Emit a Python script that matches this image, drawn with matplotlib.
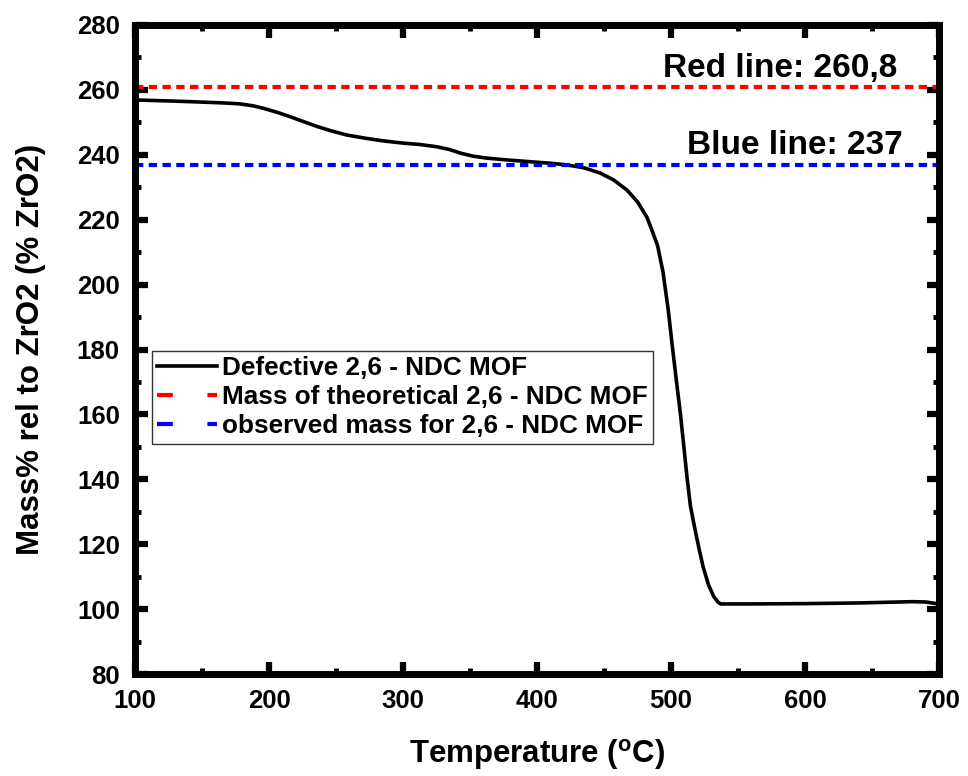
import numpy as np
import matplotlib
matplotlib.use('Agg')
from matplotlib import pyplot as plt
from matplotlib.lines import Line2D

# TGA curve
temperature = [100, 125, 146, 165, 178, 188, 196, 206, 216, 226, 236, 247, 258, 272,
               285, 300, 312, 325, 335, 343, 352, 362, 375, 397, 410, 422, 435, 447,
               457, 467, 475, 482, 486, 490, 494, 498, 501, 504, 507, 509.5, 512, 514.5,
               518, 521, 524, 528, 532, 535, 537, 545, 560, 600, 640, 680, 690, 700]
mass = [256.9, 256.6, 256.3, 256.0, 255.7, 255.1, 254.3, 253.1, 251.7, 250.2, 248.7,
        247.3, 246.1, 245.1, 244.3, 243.6, 243.2, 242.5, 241.6, 240.5, 239.6, 239.0,
        238.5, 237.8, 237.4, 236.9, 236.0, 234.4, 232.3, 229.2, 225.5, 220.8, 216.5,
        212.0, 204.0, 192.0, 181.0, 170.5, 160.3, 150.5, 140.5, 131.8, 124.4, 118.5,
        113.0, 107.5, 103.8, 102.2, 101.6, 101.6, 101.6, 101.7, 101.9, 102.3, 102.2,
        101.6]

theoretical = 260.8
observed = 237

labels = ['Defective 2,6 - NDC MOF',
          'Mass of theoretical 2,6 - NDC MOF',
          'observed mass for 2,6 - NDC MOF']

plt.rcParams['font.family'] = ['Liberation Sans', 'DejaVu Sans']
plt.rcParams['font.weight'] = 'bold'
plt.rcParams['mathtext.fontset'] = 'custom'
plt.rcParams['mathtext.rm'] = 'Liberation Sans:bold'
plt.rcParams['mathtext.bf'] = 'Liberation Sans:bold'

fig = plt.figure(figsize=(9.68, 7.76), dpi=100)
ax = fig.add_axes([0.1395, 0.1314, 0.8305, 0.8364])

ax.plot(temperature, mass, color='k', lw=2.6, solid_capstyle='butt')
ax.axhline(theoretical, color='#ff0000', lw=3, linestyle=(0, (2, 1.3)))
ax.axhline(observed, color='#0000ff', lw=3, linestyle=(0, (2, 1.3)))

ax.text(669, 264.0, 'Red line: 260,8', ha='right', va='baseline', fontsize=24, fontweight='bold')
ax.text(673, 240.2, 'Blue line: 237', ha='right', va='baseline', fontsize=24, fontweight='bold')

ax.set_xlim(100, 700)
ax.set_ylim(80, 280)
ax.set_xticks(np.arange(100, 701, 100))
ax.set_xticks(np.arange(150, 700, 100), minor=True)
ax.set_yticks(np.arange(80, 281, 20))
ax.set_yticks(np.arange(90, 280, 20), minor=True)

for s in ax.spines.values():
    s.set_linewidth(5)
ax.tick_params(which='both', direction='in', top=True, right=True, labelsize=18.5)
ax.tick_params(which='major', length=9, width=4.5)
ax.tick_params(which='minor', length=4.5, width=3.5)
ax.tick_params(axis='x', which='major', pad=11)
ax.tick_params(axis='y', which='major', pad=11)
for lab in ax.get_xticklabels() + ax.get_yticklabels():
    lab.set_fontweight('bold')

ax.set_xlabel(r'Temperature ($\mathregular{^o}$C)', fontsize=22.5, fontweight='bold', labelpad=17)
ax.set_ylabel('Mass% rel to ZrO2 (% ZrO2)', fontsize=22.5, fontweight='bold', labelpad=22)

handles = [Line2D([], [], color='k', lw=2.6),
           Line2D([], [], color='#ff0000', lw=3, dashes=(3.8, 8.3)),
           Line2D([], [], color='#0000ff', lw=3, dashes=(3.8, 8.3))]
leg = ax.legend(handles, labels, loc='upper left', bbox_to_anchor=(0.021, 0.498),
                borderaxespad=0, fancybox=False, framealpha=1, edgecolor='#333333',
                prop={'size': 18.8, 'weight': 'bold'}, handlelength=2.3,
                handletextpad=0.2, labelspacing=0.2, borderpad=0.2)
leg.get_frame().set_linewidth(1)

fig.savefig('out.png', dpi=100)
